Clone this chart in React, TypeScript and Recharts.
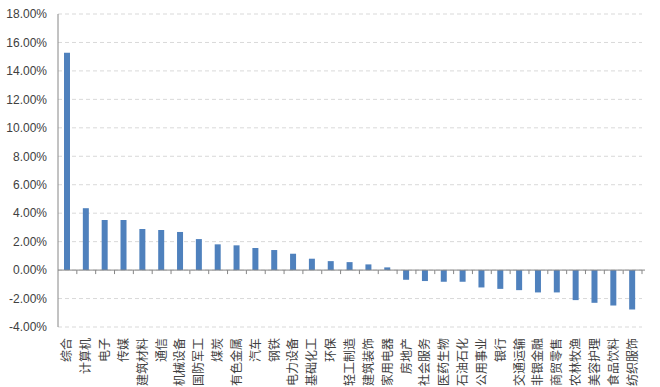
import { Bar, BarChart, CartesianGrid, ReferenceLine, XAxis, YAxis } from "recharts";

const industries = [
  "综合", "计算机", "电子", "传媒", "建筑材料", "通信", "机械设备", "国防军工",
  "煤炭", "有色金属", "汽车", "钢铁", "电力设备", "基础化工", "环保", "轻工制造",
  "建筑装饰", "家用电器", "房地产", "社会服务", "医药生物", "石油石化", "公用事业", "银行",
  "交通运输", "非银金融", "商贸零售", "农林牧渔", "美容护理", "食品饮料", "纺织服饰",
];

// percent change
const changes = [
  15.28, 4.35, 3.52, 3.52, 2.89, 2.82, 2.68, 2.18,
  1.81, 1.74, 1.55, 1.41, 1.15, 0.8, 0.63, 0.56,
  0.4, 0.19, -0.68, -0.77, -0.82, -0.82, -1.22, -1.32,
  -1.41, -1.57, -1.57, -2.11, -2.3, -2.49, -2.77,
];

const yTicks = [-4, -2, 0, 2, 4, 6, 8, 10, 12, 14, 16, 18];

const data = industries.map((name, i) => ({ name, value: changes[i] }));

const FONT = '"Liberation Sans", "Noto Sans CJK SC", sans-serif';
const TEXT = "#404040";

function CategoryTick(props: any) {
  const { x, payload } = props;
  const y = props.y + 5;
  return (
    <text
      x={x}
      y={y}
      transform={`rotate(-90, ${x}, ${y})`}
      textAnchor="end"
      dominantBaseline="central"
      fontSize={12}
      fontFamily={FONT}
      fill={TEXT}
    >
      {payload.value}
    </text>
  );
}

// zero axis line with tick marks between categories
function ZeroAxis(props: any) {
  const { x1, y1, x2 } = props;
  const step = (x2 - x1) / industries.length;
  const marks = [];
  for (let i = 1; i <= industries.length; i++) {
    const tx = x1 + step * i;
    marks.push(<line key={i} x1={tx} x2={tx} y1={y1} y2={y1 + 4} stroke="#868686" />);
  }
  return (
    <g>
      <line x1={x1} x2={x2 + 3} y1={y1} y2={y1} stroke="#868686" />
      {marks}
    </g>
  );
}

export default function App() {
  return (
    <div style={{ width: 660, height: 387, background: "#fff" }}>
      <style>{`body{margin:0}`}</style>
      <BarChart
        width={660}
        height={387}
        data={data}
        margin={{ top: 14, right: 18, bottom: 0, left: 0 }}
      >
        <CartesianGrid vertical={false} stroke="#d9d9d9" strokeDasharray="4 3" />
        <XAxis
          dataKey="name"
          interval={0}
          axisLine={false}
          tickLine={false}
          height={60}
          tickMargin={0}
          tick={<CategoryTick />}
        />
        <YAxis
          width={58}
          domain={[-4, 18]}
          ticks={yTicks}
          interval={0}
          tickLine={false}
          tickMargin={5}
          axisLine={{ stroke: "#868686" }}
          tickFormatter={(v: number) => `${v.toFixed(2)}%`}
          tick={{ fontSize: 12, fill: TEXT, fontFamily: FONT }}
        />
        <Bar dataKey="value" fill="#4F81BD" barSize={6} isAnimationActive={false} />
        <ReferenceLine y={0} shape={<ZeroAxis />} />
      </BarChart>
    </div>
  );
}
